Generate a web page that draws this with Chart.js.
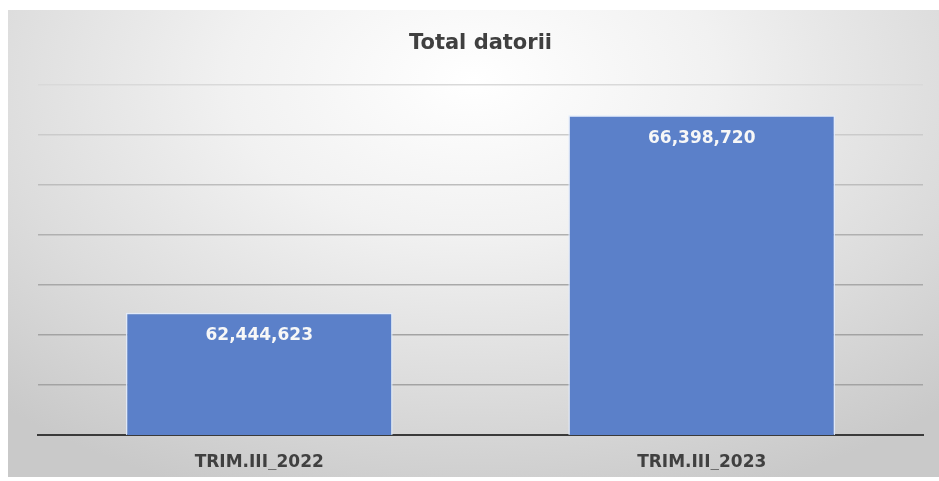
<!DOCTYPE html>
<html>
<head>
<meta charset="utf-8">
<script src="https://cdn.jsdelivr.net/npm/chart.js@4/dist/chart.umd.min.js"></script>
<style>
  html, body { margin: 0; padding: 0; background: #fff; }
  #box {
    position: absolute; left: 8px; top: 10px; width: 931px; height: 467px;
    background: radial-gradient(ellipse 75% 95% at 50% 15%, #ffffff 0%, #f1f1f1 35%, #dcdcdc 70%, #c9c9c9 100%);
  }
</style>
</head>
<body>
<div id="box"><canvas id="chart"></canvas></div>
<script>
// Data
const categories = ['TRIM.III_2022', 'TRIM.III_2023'];
const totals = [62444623, 66398720];
const chartTitle = 'Total datorii';

// grid line shades, bottom -> top
const gridShades = ['#404040', '#a3a3a3', '#a3a3a3', '#a8a8a8', '#b0b0b0', '#bdbdbd', '#cbcbcb', '#d9d9d9'];

// white value labels inside bars
const valueLabels = {
    id: 'valueLabels',
    afterDatasetsDraw(chart) {
        const ctx = chart.ctx;
        const meta = chart.getDatasetMeta(0);
        ctx.save();
        ctx.font = 'bold 17px "DejaVu Sans"';
        ctx.fillStyle = '#f7f7f7';
        ctx.textAlign = 'center';
        ctx.textBaseline = 'middle';
        meta.data.forEach((bar, i) => {
            ctx.fillText(totals[i].toLocaleString('en-US'), bar.x, bar.y + 23);
        });
        ctx.restore();
    }
};

const config = {
    type: 'bar',
    data: {
        labels: categories,
        datasets: [{
            label: chartTitle,
            data: totals,
            backgroundColor: '#5b80c9',
            borderColor: 'rgba(225,235,252,0.9)',
            borderWidth: 1.5,
            categoryPercentage: 1,
            barPercentage: 0.603
        }]
    },
    options: {
        responsive: false,
        animation: false,
        layout: { padding: { left: 30, right: 16, top: 0, bottom: 7 } },
        plugins: {
            legend: { display: false },
            title: {
                display: true,
                text: chartTitle,
                color: '#404040',
                font: { family: '"DejaVu Sans"', size: 21, weight: 'bold' },
                padding: { top: 21, bottom: 29 }
            }
        },
        scales: {
            x: {
                grid: { display: false },
                border: { display: true, color: '#3a3a3a', width: 2 },
                ticks: {
                    color: '#404040',
                    padding: 9,
                    font: { family: '"DejaVu Sans"', size: 17, weight: 'bold' }
                },
                afterFit(scale) { scale.height = 35; }
            },
            y: {
                min: 60000000,
                max: 67000000,
                ticks: { display: false, stepSize: 1000000 },
                border: { display: false },
                grid: {
                    drawTicks: false,
                    lineWidth: 1.5,
                    color: c => gridShades[c.index] || '#a3a3a3'
                }
            }
        }
    },
    plugins: [valueLabels]
};

const canvas = document.getElementById('chart');
canvas.width = 931;
canvas.height = 467;
new Chart(canvas, config);
</script>
</body>
</html>
